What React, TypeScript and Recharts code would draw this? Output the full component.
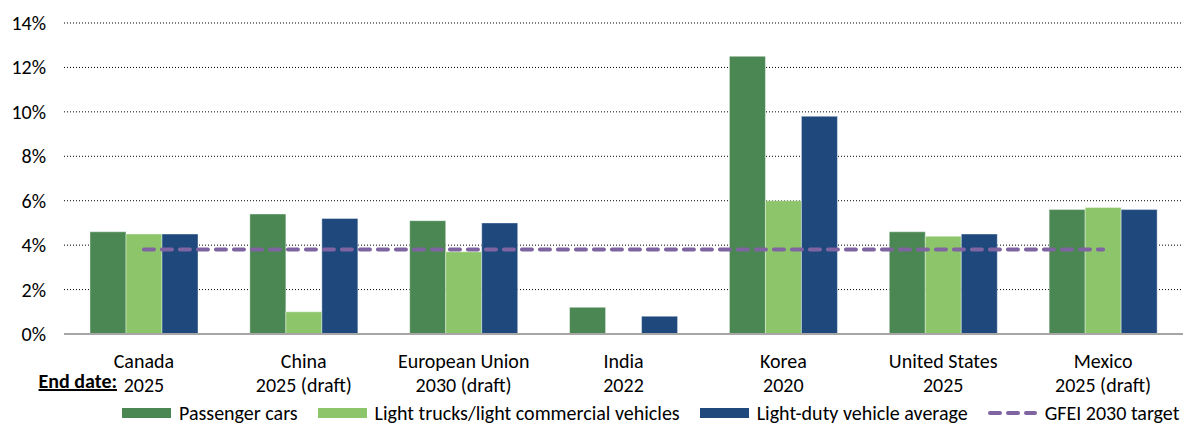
import { Bar, CartesianGrid, ComposedChart, Legend, Line, XAxis, YAxis } from "recharts";

const categories = ["Canada", "China", "European Union", "India", "Korea", "United States", "Mexico"];
const endDates = ["2025", "2025 (draft)", "2030 (draft)", "2022", "2020", "2025", "2025 (draft)"];
const passengerCars = [4.6, 5.4, 5.1, 1.2, 12.5, 4.6, 5.6];
const lightTrucks = [4.5, 1.0, 3.7, null, 6.0, 4.4, 5.7];
const ldvAverage = [4.5, 5.2, 5.0, 0.8, 9.8, 4.5, 5.6];
const gfeiTarget = [3.8, 3.8, 3.8, 3.8, 3.8, 3.8, 3.8];
const yTicks = [0, 2, 4, 6, 8, 10, 12, 14];

const FONT = "Carlito, Lato, sans-serif";
const FS = 20;
const GREEN = "#4A8752";
const LIGHT_GREEN = "#8CC56A";
const BLUE = "#1F497D";
const PURPLE = "#8064A2";

const rows = categories.map((c, i) => ({
  category: c,
  endDate: endDates[i],
  passenger: passengerCars[i],
  trucks: lightTrucks[i],
  average: ldvAverage[i],
  target: gfeiTarget[i],
}));

function YTick({ x, y, payload }: any) {
  return (
    <text x={x - 18} y={y} dy={7} textAnchor="end" fontFamily={FONT} fontSize={FS} fill="#000">
      {payload.value}%
    </text>
  );
}

function XTick({ x, y, payload, index }: any) {
  return (
    <g>
      <text x={x} y={y + 34} textAnchor="middle" fontFamily={FONT} fontSize={FS} fill="#000">
        {payload.value}
      </text>
      <text x={x} y={y + 58} textAnchor="middle" fontFamily={FONT} fontSize={FS} fill="#000">
        {endDates[index]}
      </text>
      {index === 0 && (
        <text
          x={117}
          y={y + 54}
          textAnchor="end"
          fontFamily={FONT}
          fontSize={FS}
          fontWeight="bold"
          textDecoration="underline"
          fill="#000"
        >
          End date:
        </text>
      )}
    </g>
  );
}

const legendItems = [
  { label: "Passenger cars", color: GREEN, kind: "box" },
  { label: "Light trucks/light commercial vehicles", color: LIGHT_GREEN, kind: "box" },
  { label: "Light-duty vehicle average", color: BLUE, kind: "box" },
  { label: "GFEI 2030 target", color: PURPLE, kind: "line" },
];

function ChartLegend() {
  return (
    <div
      style={{
        display: "flex",
        alignItems: "center",
        paddingLeft: 122,
        fontFamily: FONT,
        fontSize: FS,
        color: "#000",
        lineHeight: "20px",
        whiteSpace: "nowrap",
      }}
    >
      {legendItems.map((item) => (
        <div key={item.label} style={{ display: "flex", alignItems: "center", marginRight: 20 }}>
          {item.kind === "box" ? (
            <div style={{ width: 49, height: 10, background: item.color, marginRight: 8 }} />
          ) : (
            <svg width={49} height={10} style={{ marginRight: 8 }}>
              <line
                x1={2}
                y1={5}
                x2={47}
                y2={5}
                stroke={item.color}
                strokeWidth={4}
                strokeDasharray="10 8"
                strokeLinecap="round"
              />
            </svg>
          )}
          <span>{item.label}</span>
        </div>
      ))}
    </div>
  );
}

export default function App() {
  return (
    <div style={{ position: "absolute", left: 0, top: 0, background: "#fff" }}>
      <ComposedChart
        width={1189}
        height={424}
        data={rows}
        margin={{ top: 23, right: 6, bottom: 30, left: 0 }}
        barGap={0}
      >
        <CartesianGrid vertical={false} stroke="#000" strokeDasharray="1 2" />
        <XAxis
          dataKey="category"
          height={60}
          tickLine={false}
          tickSize={0}
          tickMargin={0}
          axisLine={{ stroke: "#A6A6A6", strokeWidth: 2 }}
          tick={<XTick />}
          interval={0}
        />
        <YAxis
          width={64}
          domain={[0, 14]}
          ticks={yTicks}
          axisLine={false}
          tickLine={false}
          tickSize={0}
          tickMargin={0}
          tick={<YTick />}
        />
        <Legend
          verticalAlign="middle"
          align="center"
          layout="horizontal"
          wrapperStyle={{ top: 403, left: 0, width: 1189 }}
          content={<ChartLegend />}
        />
        <Bar dataKey="passenger" fill={GREEN} barSize={36} stroke="rgba(255,255,255,0.4)" isAnimationActive={false} />
        <Bar dataKey="trucks" fill={LIGHT_GREEN} barSize={36} stroke="rgba(255,255,255,0.4)" isAnimationActive={false} />
        <Bar dataKey="average" fill={BLUE} barSize={36} stroke="rgba(255,255,255,0.4)" isAnimationActive={false} />
        <Line
          type="linear"
          dataKey="target"
          stroke={PURPLE}
          strokeWidth={4}
          strokeDasharray="10 8"
          strokeLinecap="round"
          dot={false}
          activeDot={false}
          isAnimationActive={false}
        />
      </ComposedChart>
    </div>
  );
}
